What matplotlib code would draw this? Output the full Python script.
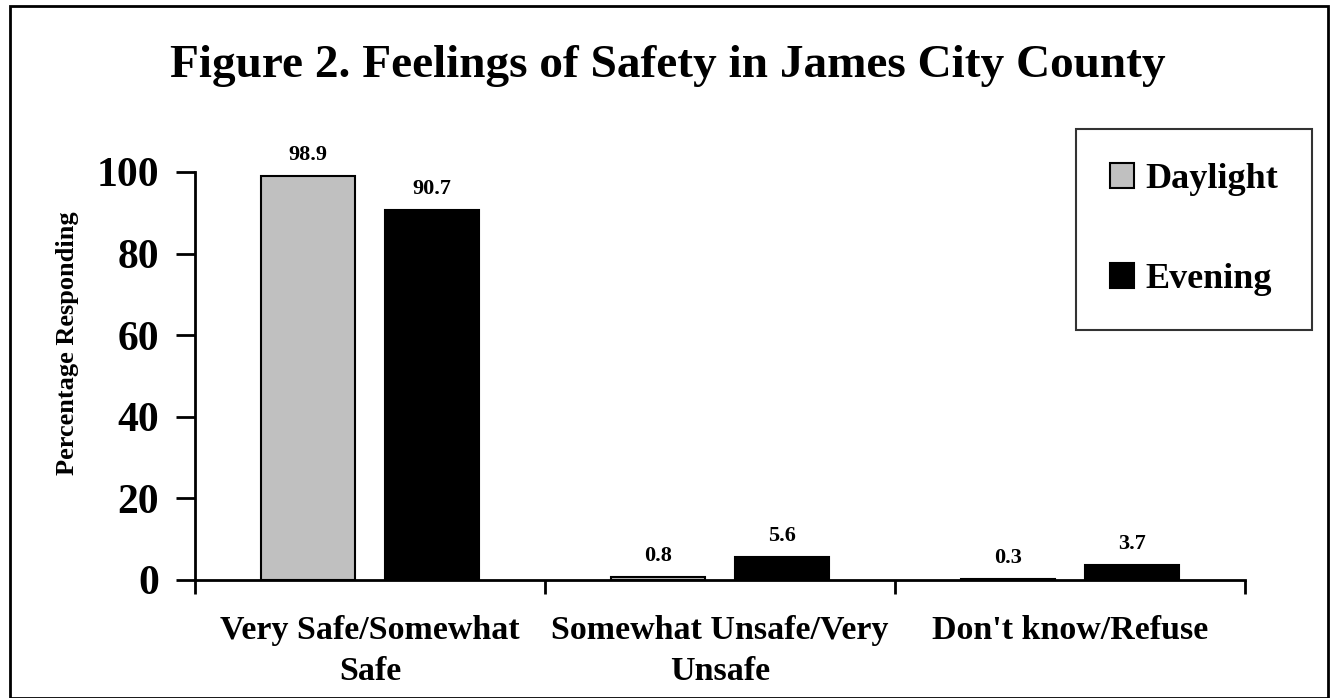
import matplotlib.pyplot as plt
import numpy as np
from matplotlib.patches import Rectangle

plt.rcParams['font.family'] = 'Liberation Serif'
plt.rcParams['font.weight'] = 'bold'

# Survey results (percent responding)
categories = ['Very Safe/Somewhat\nSafe', 'Somewhat Unsafe/Very\nUnsafe', "Don't know/Refuse"]
daylight = [98.9, 0.8, 0.3]
evening = [90.7, 5.6, 3.7]
series_names = ['Daylight', 'Evening']
yticks = [0, 20, 40, 60, 80, 100]

fig = plt.figure(figsize=(13.34, 6.98), dpi=100)
W, H = 1334, 698
ax = fig.add_axes([195 / W, 1 - 580 / H, 1050 / W, (580 - 172) / H])

x = np.arange(len(categories))
width = 0.27
off = 0.177
b1 = ax.bar(x - off, daylight, width, color='#c0c0c0', edgecolor='black', linewidth=1.5, label=series_names[0])
b2 = ax.bar(x + off, evening, width, color='black', edgecolor='black', linewidth=1.5, label=series_names[1])

for bars, vals in ((b1, daylight), (b2, evening)):
    for r, v in zip(bars, vals):
        ax.annotate(f'{v:.1f}', (r.get_x() + r.get_width() / 2, v), xytext=(0, 8),
                    textcoords='offset points', ha='center', va='bottom',
                    fontsize=16, fontweight='bold')

ax.set_xlim(-0.5, 2.5)
ax.set_ylim(0, 100)
ax.set_yticks(yticks)
ax.set_yticklabels([str(t) for t in yticks], fontsize=30, fontweight='bold')
ax.tick_params(axis='y', length=14, width=2, pad=12)

# category separators as ticks, labels at centers
ax.set_xticks([-0.5, 0.5, 1.5, 2.5])
ax.set_xticklabels([])
ax.tick_params(axis='x', length=10, width=2)
for i, c in enumerate(categories):
    ax.text(i, -8.5, c, ha='center', va='top', fontsize=24.5, fontweight='bold',
            linespacing=1.45, transform=ax.transData)

ax.spines['top'].set_visible(False)
ax.spines['right'].set_visible(False)
ax.spines['left'].set_linewidth(2)
ax.spines['bottom'].set_linewidth(2)

fig.text(68 / W, 1 - 343 / H, 'Percentage Responding', rotation=90, ha='center', va='center',
         fontsize=19, fontweight='bold')
fig.text(668 / W, 1 - 66 / H, 'Figure 2. Feelings of Safety in James City County',
         ha='center', va='center', fontsize=34, fontweight='bold')

leg = fig.legend(handles=[b1, b2], loc='upper left',
                 bbox_to_anchor=(1076 / W, 1 - 129 / H),
                 bbox_transform=fig.transFigure, frameon=True, fancybox=False,
                 prop={'size': 26, 'weight': 'bold'}, handlelength=0.66, handleheight=0.66,
                 handletextpad=0.3, labelspacing=1.85, borderpad=0.95, borderaxespad=0)
leg.get_frame().set_edgecolor('black')
leg.get_frame().set_linewidth(1.5)

# outer border around the chart
fig.patches.append(Rectangle((10 / W, 0), (1328 - 10) / W, 1 - 6 / H, transform=fig.transFigure,
                             fill=False, edgecolor='black', linewidth=2))

fig.savefig('out.png', dpi=100)
